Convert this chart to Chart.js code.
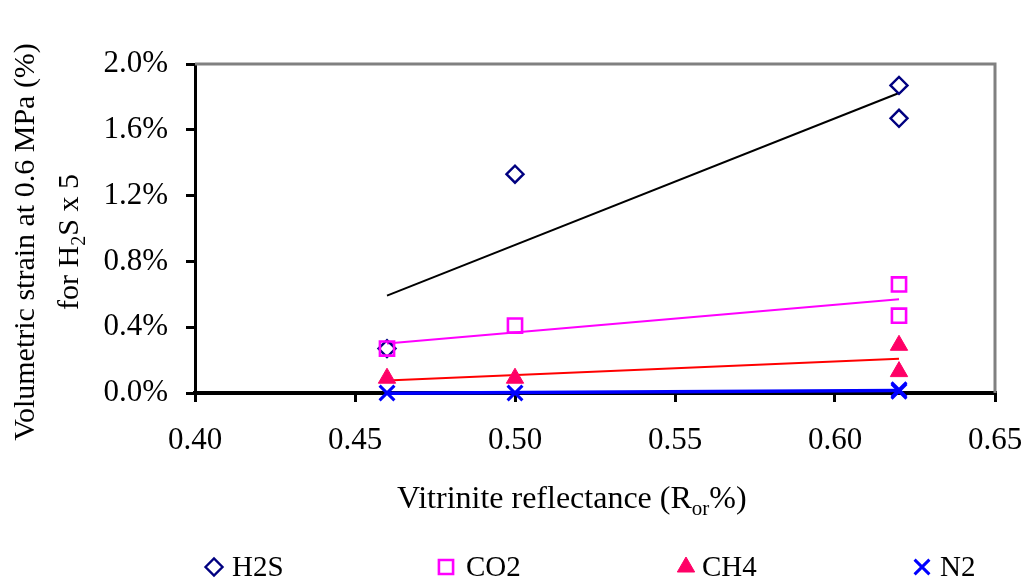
<!DOCTYPE html>
<html>
<head>
<meta charset="utf-8">
<script src="https://cdn.jsdelivr.net/npm/chart.js@4.4.1/dist/chart.umd.min.js"></script>
<style>
  html, body { margin: 0; padding: 0; background: #fff; }
  #wrap { position: relative; width: 1027px; height: 580px; overflow: hidden; }
  canvas { position: absolute; left: 0; top: 0; }
  .t { position: absolute; font-family: 'Liberation Serif', 'Times New Roman', serif; color: #000; white-space: nowrap; }
  #ytitle { font-size: 30px; width: 520px; left: -214px; top: 198px; height: 88px; line-height: 44px; text-align: center; transform: rotate(-90deg); transform-origin: 50% 50%; }
  #xtitle { font-size: 32px; left: 397px; top: 478px; line-height: 38px; }
  #xtitle sub { font-size: 21px; vertical-align: -7px; line-height: 0; }
  #ytitle sub { font-size: 20px; vertical-align: -7px; line-height: 0; }
</style>
</head>
<body>
<div id="wrap">
  <canvas id="c" width="1027" height="580"></canvas>
  <div id="ytitle" class="t">Volumetric strain at 0.6 MPa (%)<br>for H<sub>2</sub>S x 5</div>
  <div id="xtitle" class="t">Vitrinite reflectance (R<sub>or</sub>%)</div>
</div>
<script>
// ---- data ----
const reflectance = [0.46, 0.50, 0.62, 0.62];      // vitrinite reflectance Ro (%)
const h2sStrain   = [0.27, 1.33, 1.87, 1.67];      // % (H2S x 5)
const co2Strain   = [0.27, 0.41, 0.66, 0.47];      // %
const ch4Strain   = [0.09, 0.09, 0.29, 0.13];      // %
const n2Strain    = [0.00, 0.00, 0.02, 0.01];      // %
const seriesNames = ['H2S', 'CO2', 'CH4', 'N2'];
const xTicks = [0.40, 0.45, 0.50, 0.55, 0.60, 0.65];
const yTicks = [0.0, 0.4, 0.8, 1.2, 1.6, 2.0];

// least-squares trend line over data range
function trend(xs, ys) {
  const n = xs.length;
  const mx = xs.reduce((a, b) => a + b, 0) / n;
  const my = ys.reduce((a, b) => a + b, 0) / n;
  let sxy = 0, sxx = 0;
  for (let i = 0; i < n; i++) { sxy += (xs[i] - mx) * (ys[i] - my); sxx += (xs[i] - mx) ** 2; }
  const b = sxy / sxx, a = my - b * mx;
  const x0 = Math.min(...xs), x1 = Math.max(...xs);
  return [{ x: x0, y: a + b * x0 }, { x: x1, y: a + b * x1 }];
}
const pts = ys => reflectance.map((x, i) => ({ x, y: ys[i] }));

const FONT = "'Liberation Serif', 'Times New Roman', serif";
const markerStyle = [
  { pointStyle: 'rectRot', radius: 8.5, border: '#000080', bg: 'rgba(0,0,0,0)', bw: 2.4 },
  { pointStyle: 'rect', radius: 10, border: '#FF00FF', bg: 'rgba(0,0,0,0)', bw: 2.6 },
  { pointStyle: 'triangle', radius: 10, border: '#FF0066', bg: '#FF0066', bw: 1 },
  { pointStyle: 'crossRot', radius: 10.5, border: '#0000FF', bg: '#0000FF', bw: 3 }
];
const lineColors = ['#000000', '#FF00FF', '#FF0000', '#0000FF'];
const lineWidths = [2, 2, 2, 3.5];
const allSeries = [h2sStrain, co2Strain, ch4Strain, n2Strain];

const datasets = [];
allSeries.forEach((ys, i) => {
  const m = markerStyle[i];
  datasets.push({
    label: seriesNames[i],
    data: pts(ys),
    showLine: false,
    pointStyle: m.pointStyle,
    pointRadius: m.radius,
    pointHoverRadius: m.radius,
    borderColor: m.border,
    backgroundColor: m.bg,
    borderWidth: m.bw,
    clip: false,
    order: 4 - i
  });
  datasets.push({
    label: seriesNames[i] + ' trend',
    data: trend(reflectance, ys),
    showLine: true,
    pointRadius: 0,
    borderColor: lineColors[i],
    borderWidth: lineWidths[i],
    fill: false,
    clip: false,
    order: i === 3 ? -10 : 10
  });
});

// legend drawn on canvas at reference positions
const legendItems = [
  { name: 'H2S', mx: 214, tx: 232 },
  { name: 'CO2', mx: 446, tx: 466 },
  { name: 'CH4', mx: 686, tx: 702 },
  { name: 'N2',  mx: 922, tx: 940 }
];
const legendPlugin = {
  id: 'customLegend',
  afterDraw(chart) {
    const ctx = chart.ctx;
    const y = 567;
    legendItems.forEach((it, i) => {
      const m = markerStyle[i];
      ctx.save();
      ctx.strokeStyle = m.border;
      ctx.fillStyle = m.bg;
      ctx.lineWidth = m.bw;
      Chart.helpers.drawPoint(ctx, { pointStyle: m.pointStyle, rotation: 0, radius: m.radius, borderWidth: m.bw }, it.mx, y);
      ctx.restore();
      ctx.save();
      ctx.fillStyle = '#000';
      ctx.font = '29px ' + FONT;
      ctx.textBaseline = 'middle';
      ctx.textAlign = 'left';
      ctx.fillText(it.name, it.tx, y + 1);
      ctx.restore();
    });
  }
};

// gray frame on top and right of plot area
const framePlugin = {
  id: 'frame',
  beforeDatasetsDraw(chart) {
    const { ctx, chartArea: a } = chart;
    ctx.save();
    ctx.strokeStyle = '#808080';
    ctx.lineWidth = 3;
    ctx.beginPath();
    ctx.moveTo(a.left, a.top);
    ctx.lineTo(a.right, a.top);
    ctx.lineTo(a.right, a.bottom);
    ctx.stroke();
    ctx.restore();
  }
};

new Chart(document.getElementById('c'), {
  type: 'scatter',
  data: { datasets },
  options: {
    responsive: false,
    animation: false,
    devicePixelRatio: 1,
    layout: { padding: { left: 0, top: 64, right: 32, bottom: 107 } },
    plugins: { legend: { display: false }, tooltip: { enabled: false } },
    scales: {
      x: {
        type: 'linear',
        min: xTicks[0], max: xTicks[xTicks.length - 1],
        afterBuildTicks: s => { s.ticks = xTicks.map(v => ({ value: v })); },
        afterFit: s => { s.height = 80; s.paddingLeft = 0; s.paddingRight = 0; },
        ticks: {
          callback: v => Number(v).toFixed(2),
          font: { family: FONT, size: 31 },
          color: '#000',
          padding: 20,
          maxRotation: 0,
          autoSkip: false
        },
        grid: { display: true, drawOnChartArea: false, drawTicks: true, tickLength: 9, color: '#000', lineWidth: 3 },
        border: { display: true, color: '#000', width: 4 }
      },
      y: {
        min: yTicks[0], max: yTicks[yTicks.length - 1],
        afterBuildTicks: s => { s.ticks = yTicks.map(v => ({ value: v })); },
        afterFit: s => { s.width = 195; s.paddingTop = 0; s.paddingBottom = 0; },
        ticks: {
          callback: v => Number(v).toFixed(1) + '%',
          font: { family: FONT, size: 31 },
          color: '#000',
          padding: 18
        },
        grid: { display: true, drawOnChartArea: false, drawTicks: true, tickLength: 9, color: '#000', lineWidth: 3 },
        border: { display: true, color: '#000', width: 3 }
      }
    }
  },
  plugins: [framePlugin, legendPlugin]
});
</script>
</body>
</html>
